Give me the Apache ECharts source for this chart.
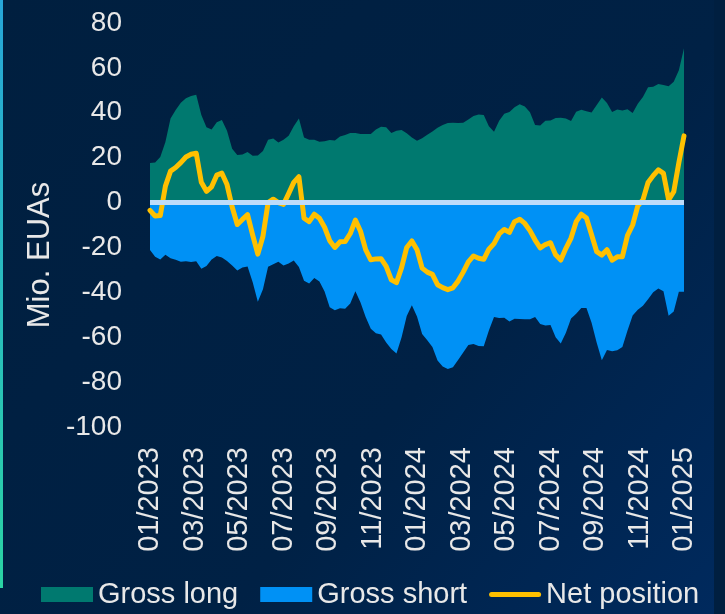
<!DOCTYPE html>
<html>
<head>
<meta charset="utf-8">
<script src="https://cdn.jsdelivr.net/npm/echarts@6/dist/echarts.min.js"></script>
<style>
  html, body { margin: 0; padding: 0; background: #00203f; }
  #chart { width: 725px; height: 614px; }
</style>
</head>
<body>
<div id="chart"></div>
<script>
// tick labels on the x axis, one every two months
const monthLabels = ['01/2023', '03/2023', '05/2023', '07/2023', '09/2023', '11/2023',
  '01/2024', '03/2024', '05/2024', '07/2024', '09/2024', '11/2024', '01/2025']

// weekly values, Mio. EUAs
const grossLong = [
  17.6, 17.8, 20.3, 27, 37.5, 41.2, 44.5, 46.5, 47.5, 48,
  39, 33.5, 32.5, 35.8, 36.8, 32, 24, 21.2, 21.4, 22.5,
  20.8, 21, 23, 28, 28.5, 26.8, 28, 29.8, 34, 37.5,
  29, 28, 28, 27.1, 27.3, 27.9, 27.6, 29.4, 30.1, 31,
  31, 30.5, 30.5, 30.5, 32.6, 33.8, 33.5, 31, 32, 32.3,
  30.9, 29, 27.5, 28.7, 30.2, 31.7, 33.3, 34.6, 35.4, 35.6,
  35.4, 35.6, 37, 38.6, 39.2, 39, 34, 31.5, 36.5, 39.6,
  40.3, 42.5, 43.8, 42.8, 40.2, 34.5, 34.3, 36.5, 36.6, 37.7,
  37.8, 37.5, 36.3, 40.5, 41.3, 40.7, 40.1, 43.5, 46.8, 44.4,
  40.3, 41.5, 41, 41.6, 39.9, 44, 47, 51.4, 51.6, 52.8,
  52.4, 51.8, 53.8, 59, 68.8
]
const grossShort = [
  -21.1, -24.1, -25.4, -23.3, -24.8, -25.5, -26.4, -26.1, -26.5, -26.2,
  -29.5, -28.3, -25.4, -23.8, -24.5, -26, -28.1, -30.3, -28.9, -28.5,
  -35.5, -44.2, -38.6, -28.6, -27.5, -26.4, -28, -27.2, -25.8, -28.7,
  -34.8, -36.1, -33.6, -35.2, -39.6, -46.6, -48, -47.1, -47.3, -45,
  -39.5, -44.5, -51, -56.2, -58.2, -58.8, -62.4, -65.3, -67.2, -60,
  -50.6, -45.8, -50.8, -58.6, -61.4, -64.4, -70.4, -73.1, -74.2, -73.4,
  -70.1, -66.8, -63.5, -63, -63.9, -64, -57, -51, -51.4, -51.3,
  -53, -51.8, -51.9, -52, -52, -51, -54.1, -54.8, -54.5, -60,
  -62.8, -58, -51.7, -49.5, -47, -47, -53.6, -62.5, -70.3, -65.7,
  -66.2, -65.8, -64.4, -57, -50.3, -47.8, -46, -43.1, -40, -38.3,
  -39.5, -50.4, -48.5, -39.7, -39.7
]
const netPosition = [
  -3.5, -6, -5.8, 7.3, 14, 15.6, 17.8, 20.3, 21.5, 22,
  9, 5, 7, 12.2, 13.1, 8, -2, -9.8, -7.5, -5.4,
  -14.5, -23, -15, 0, 1.5, 0, -0.8, 4, 9, 11.5,
  -7, -8.5, -5.2, -7, -11, -17, -20, -17.5, -17.4, -13.8,
  -7.8, -12.8, -21, -25.5, -25.1, -25, -28.4, -34.4, -35.7, -29,
  -20, -17.1, -21, -29.2, -31, -32, -36.6, -37.9, -38.8, -38,
  -35, -31, -26.4, -23.8, -24.8, -25.3, -20.8, -18.3, -14, -12,
  -13.3, -8.5, -7.4, -9.3, -12.5, -16.7, -20.2, -18.7, -17.9, -23.3,
  -25.6, -20.4, -15.8, -8.5, -5.2, -6.9, -14.3, -21.9, -23.4, -21,
  -25.7, -24.2, -24.1, -14.6, -10, -1.5, 1.2, 8.9, 12, 14.6,
  13, 1.2, 4.8, 17.8, 29.7
]

// x position in months since 01/2023 (weekly points over two years)
const weeks = netPosition.length
const toPoints = arr => arr.map((v, i) => [i * 24 / (weeks - 1), v])

const textColor = '#e8e8e8'
const fontFamily = 'Liberation Sans, Arial, sans-serif'
const chart = echarts.init(document.getElementById('chart'))

const option = {
  backgroundColor: {
    type: 'linear', x: 0, y: 0, x2: 1, y2: 1,
    colorStops: [
      { offset: 0, color: '#001f3f' },
      { offset: 0.6, color: '#002145' },
      { offset: 1, color: '#002a5e' }
    ]
  },
  textStyle: { fontFamily: fontFamily },
  animation: false,
  graphic: [
    {
      type: 'rect',
      shape: { x: 0, y: 0, width: 3, height: 588 },
      style: {
        fill: {
          type: 'linear', x: 0, y: 0, x2: 0, y2: 1,
          colorStops: [{ offset: 0, color: '#27a6d8' }, { offset: 1, color: '#2bd3a4' }]
        }
      }
    },
    {
      type: 'rect',
      shape: { x: 714, y: 0, width: 11, height: 614 },
      style: { fill: '#001f40' }
    },
    {
      type: 'text',
      x: 40,
      y: 255,
      rotation: Math.PI / 2,
      style: {
        text: 'Mio. EUAs',
        fill: textColor,
        font: '31px ' + fontFamily,
        align: 'center',
        verticalAlign: 'middle'
      }
    }
  ],
  grid: {
    left: 150,
    right: 41,
    top: 23,
    bottom: 187
  },
  legend: {
    top: 575,
    left: 36,
    itemWidth: 52,
    itemHeight: 15,
    itemGap: 22,
    textStyle: { color: textColor, fontSize: 29 },
    data: [
      { name: 'Gross long', icon: 'rect' },
      { name: 'Gross short', icon: 'rect' },
      {
        name: 'Net position',
        // flat rounded bar instead of line + dot
        icon: 'path://M2.5,0 L49.5,0 A2.5,2.5 0 0 1 49.5,5 L2.5,5 A2.5,2.5 0 0 1 2.5,0 Z',
        itemStyle: { color: '#ffc000' }
      }
    ]
  },
  xAxis: {
    type: 'value',
    min: 0,
    max: 24,
    interval: 2,
    axisLine: { show: false },
    axisTick: { show: false },
    splitLine: { show: false },
    axisLabel: {
      rotate: 90,
      margin: 20,
      color: textColor,
      fontSize: 29,
      formatter: function (v) {
        return monthLabels[Math.round(v / 2)]
      }
    }
  },
  yAxis: {
    type: 'value',
    min: -100,
    max: 80,
    interval: 20,
    axisLine: { show: false },
    axisTick: { show: false },
    splitLine: { show: false },
    axisLabel: {
      margin: 28,
      color: textColor,
      fontSize: 28
    }
  },
  series: [
    {
      name: 'Gross long',
      type: 'line',
      data: toPoints(grossLong),
      symbol: 'none',
      lineStyle: { width: 0 },
      itemStyle: { color: '#00796f' },
      areaStyle: { color: '#00796f', opacity: 1 }
    },
    {
      name: 'Gross short',
      type: 'line',
      data: toPoints(grossShort),
      symbol: 'none',
      lineStyle: { width: 0 },
      itemStyle: { color: '#0091f5' },
      areaStyle: { color: '#0091f5', opacity: 1 },
      markLine: {
        silent: true,
        symbol: 'none',
        label: { show: false },
        lineStyle: { color: '#bedcfa', width: 5, type: 'solid' },
        data: [{ yAxis: 0 }]
      }
    },
    {
      name: 'Net position',
      type: 'line',
      data: toPoints(netPosition),
      symbol: 'none',
      itemStyle: { color: '#ffc000' },
      lineStyle: { color: '#ffc000', width: 5, cap: 'round', join: 'round' }
    }
  ]
}

chart.setOption(option)
</script>
</body>
</html>
